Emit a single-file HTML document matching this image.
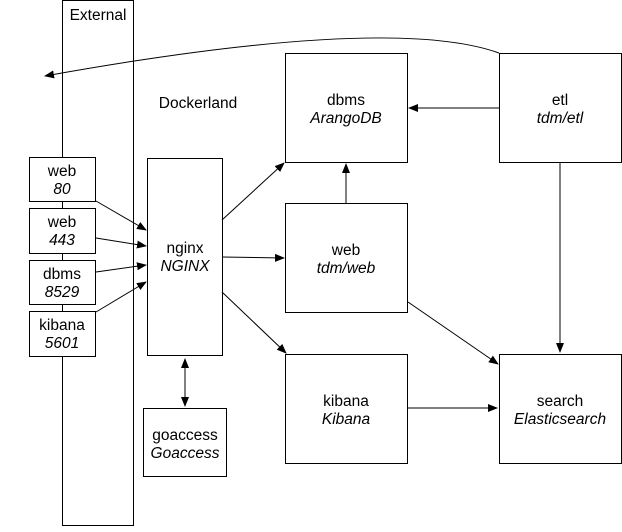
<!DOCTYPE html>
<html><head><style>
body{margin:0;background:#fff;}
svg text{font-family:"Liberation Sans",Arial,sans-serif;font-size:15.5px;fill:#000;}
.i{font-style:italic;}
</style></head><body>
<svg width="622" height="527" xmlns="http://www.w3.org/2000/svg">
<defs><marker id="a" markerWidth="10" markerHeight="8" refX="9" refY="4" orient="auto" markerUnits="userSpaceOnUse"><path d="M0,0 L10,4 L0,8 Z" fill="#000"/></marker>
<marker id="b" markerWidth="10" markerHeight="8" refX="1" refY="4" orient="auto" markerUnits="userSpaceOnUse"><path d="M10,0 L0,4 L10,8 Z" fill="#000"/></marker></defs>
<g fill="#fff" stroke="#000" stroke-width="1">
<rect x="62.5" y="0.5" width="71" height="525"/>
<rect x="29.5" y="157.5" width="66" height="44"/>
<rect x="29.5" y="208.5" width="66" height="45"/>
<rect x="29.5" y="260.5" width="66" height="44"/>
<rect x="29.5" y="311.5" width="66" height="45"/>
<rect x="147.5" y="158.5" width="75" height="197"/>
<rect x="143.5" y="408.5" width="83" height="68"/>
<rect x="285.5" y="53.5" width="122" height="109"/>
<rect x="285.5" y="203.5" width="122" height="109"/>
<rect x="285.5" y="354.5" width="122" height="109"/>
<rect x="499.5" y="53.5" width="122" height="109"/>
<rect x="499.5" y="354.5" width="122" height="109"/>
</g>
<g fill="none" stroke="#000" stroke-width="1" marker-end="url(#a)">
<path d="M499,53 Q390,14 45,76"/>
<line x1="96" y1="201" x2="146" y2="230"/>
<line x1="96" y1="238" x2="146" y2="246"/>
<line x1="96" y1="272" x2="146" y2="265"/>
<line x1="96" y1="312" x2="146" y2="282"/>
<line x1="222" y1="220" x2="284" y2="163"/>
<line x1="222" y1="257" x2="284" y2="258"/>
<line x1="222" y1="292" x2="286" y2="353"/>
<line x1="185" y1="359" x2="185" y2="406" marker-start="url(#b)"/>
<line x1="499" y1="108" x2="409" y2="108"/>
<line x1="346" y1="203" x2="346" y2="164"/>
<line x1="560" y1="163" x2="560" y2="352"/>
<line x1="408" y1="302" x2="498" y2="364"/>
<line x1="408" y1="408" x2="497" y2="408"/>
</g>
<g text-anchor="middle">
<text x="98" y="20">External</text>
<text x="198" y="108">Dockerland</text>
<text x="62" y="176">web</text><text class="i" x="62" y="194">80</text>
<text x="62" y="227">web</text><text class="i" x="62" y="245">443</text>
<text x="62" y="279">dbms</text><text class="i" x="62" y="297">8529</text>
<text x="62" y="330">kibana</text><text class="i" x="62" y="348">5601</text>
<text x="185" y="253">nginx</text><text class="i" x="185" y="271">NGINX</text>
<text x="185" y="440">goaccess</text><text class="i" x="185" y="458">Goaccess</text>
<text x="346" y="105">dbms</text><text class="i" x="346" y="123">ArangoDB</text>
<text x="346" y="255">web</text><text class="i" x="346" y="273">tdm/web</text>
<text x="346" y="406">kibana</text><text class="i" x="346" y="424">Kibana</text>
<text x="560" y="105">etl</text><text class="i" x="560" y="123">tdm/etl</text>
<text x="560" y="406">search</text><text class="i" x="560" y="424">Elasticsearch</text>
</g>
</svg>
</body></html>
